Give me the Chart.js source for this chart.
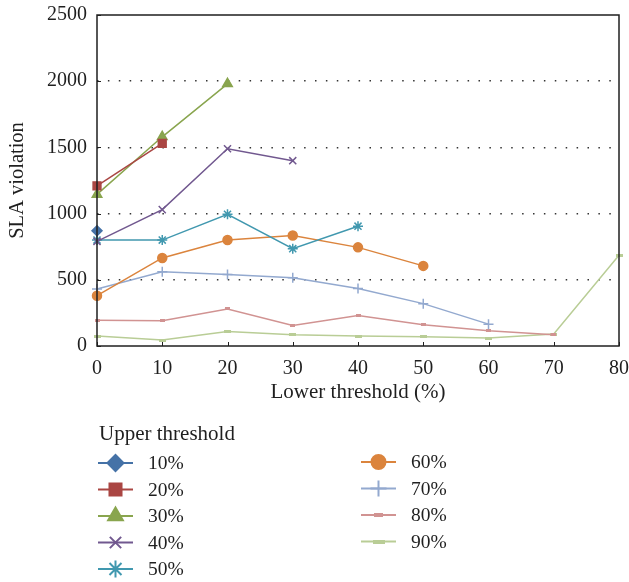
<!DOCTYPE html>
<html>
<head>
<meta charset="utf-8">
<script src="https://cdn.jsdelivr.net/npm/chart.js@4"></script>
<style>
  html, body { margin:0; padding:0; background:#fff; }
  #wrap { width:629px; height:582px; }
</style>
</head>
<body>
<div id="wrap"><canvas id="chart" width="629" height="582"></canvas></div>
<script>
// --- Data ---
const lowerThresholds = ['0','10','20','30','40','50','60','70','80'];
const yTicks = [0, 500, 1000, 1500, 2000, 2500];

const upper10 = [870];
const upper20 = [1210, 1530];
const upper30 = [1145, 1580, 1980];
const upper40 = [790, 1030, 1490, 1400];
const upper50 = [800, 800, 995, 735, 905];
const upper60 = [380, 665, 800, 835, 745, 605];
const upper70 = [430, 560, 540, 515, 435, 320, 165];
const upper80 = [195, 190, 280, 155, 230, 160, 115, 85];
const upper90 = [75, 45, 110, 85, 75, 70, 60, 90, 685];

const seriesNames = ['10%','20%','30%','40%','50%','60%','70%','80%','90%'];
const seriesData = [upper10, upper20, upper30, upper40, upper50, upper60, upper70, upper80, upper90];
const seriesColors = ['#4572A7','#AA4643','#89A54E','#71588F','#4198AF','#DB843D','#93A9CF','#D19392','#B9CD96'];

const FONT = "'Liberation Serif', 'DejaVu Serif', serif";
const INK = '#1f1f1f';

// small flat bar marker used by the 80% / 90% series
function barMarker(w, h, color){
  const c = document.createElement('canvas');
  c.width = w; c.height = h;
  const g = c.getContext('2d');
  g.fillStyle = color; g.fillRect(0, 0, w, h);
  return c;
}

// marker style per series: [plot style, plot radius, legend style, legend radius]
const markers = [
  ['rectRot', 5, 'rectRot', 8],
  ['rect', 5.5, 'rect', 8.5],
  ['triangle', 5.5, 'triangle', 8.5],
  ['crossRot', 5, 'crossRot', 8],
  ['star', 5, 'star', 8.5],
  ['circle', 4.5, 'circle', 7],
  ['cross', 5, 'cross', 8],
  [barMarker(5, 3, '#D19392'), 3, barMarker(9, 4, '#D19392'), 4],
  [barMarker(7, 3, '#B9CD96'), 3, barMarker(12, 4, '#B9CD96'), 4],
];

const datasets = seriesNames.map((name, i) => ({
  label: name,
  data: seriesData[i],
  borderColor: seriesColors[i],
  backgroundColor: seriesColors[i],
  borderWidth: 1.5,
  pointStyle: markers[i][0],
  pointRadius: markers[i][1],
  pointHoverRadius: markers[i][1],
  pointBorderWidth: 1.5,
  tension: 0,
  clip: false,
  fill: false
}));

// --- frame + inward tick marks ---
const framePlugin = {
  id: 'frame',
  afterDatasetsDraw(chart){
    const {ctx, chartArea:a, scales} = chart;
    ctx.save();
    ctx.strokeStyle = INK; ctx.lineWidth = 1.5;
    ctx.strokeRect(a.left, a.top, a.right - a.left, a.bottom - a.top);
    ctx.lineWidth = 1;
    ctx.beginPath();
    lowerThresholds.forEach((_, i) => {
      const x = Math.round(scales.x.getPixelForValue(i)) + 0.5;
      ctx.moveTo(x, a.bottom); ctx.lineTo(x, a.bottom - 4);
    });
    yTicks.forEach(v => {
      const y = Math.round(scales.y.getPixelForValue(v)) + 0.5;
      ctx.moveTo(a.left, y); ctx.lineTo(a.left + 4, y);
    });
    ctx.stroke();
    ctx.restore();
  }
};

// --- legend below the plot, two columns ---
const legendPlugin = {
  id: 'sideLegend',
  afterDraw(chart){
    const ctx = chart.ctx;
    ctx.save();
    ctx.font = "21px " + FONT;
    ctx.fillStyle = INK;
    ctx.textBaseline = 'middle';
    ctx.textAlign = 'left';
    ctx.fillText('Upper threshold', 99, 434);
    ctx.font = "19.5px " + FONT;
    seriesNames.forEach((name, i) => {
      const col = i < 5 ? 0 : 1;
      const row = col ? i - 5 : i;
      const x0 = col ? 361 : 98;
      const y = (col ? 462 : 463) + row * 26.5;
      ctx.strokeStyle = seriesColors[i];
      ctx.lineWidth = 2;
      ctx.beginPath(); ctx.moveTo(x0, y); ctx.lineTo(x0 + 35, y); ctx.stroke();
      ctx.fillStyle = seriesColors[i];
      Chart.helpers.drawPoint(ctx, {
        pointStyle: markers[i][2], radius: markers[i][3], borderWidth: 1.5, rotation: 0
      }, x0 + 17.5, y);
      ctx.fillStyle = INK;
      ctx.fillText(name, x0 + 50, y + 1);
    });
    ctx.restore();
  }
};

new Chart(document.getElementById('chart'), {
  type: 'line',
  data: { labels: lowerThresholds, datasets },
  plugins: [framePlugin, legendPlugin],
  options: {
    responsive: false,
    animation: false,
    events: [],
    layout: { padding: { top: 15, right: 10, left: 0, bottom: 176 } },
    plugins: { legend: { display: false }, tooltip: { enabled: false } },
    scales: {
      x: {
        type: 'category',
        offset: false,
        grid: { display: false },
        border: { display: false },
        ticks: { color: INK, font: { family: FONT, size: 20 }, padding: 3, maxRotation: 0, autoSkip: false },
        title: { display: true, text: 'Lower threshold (%)', color: INK, font: { family: FONT, size: 21 }, padding: { top: 0, bottom: 1 } },
        afterFit(scale){ scale.height = 60; scale.paddingLeft = 0; scale.paddingRight = 0; }
      },
      y: {
        min: 0, max: 2500,
        afterBuildTicks(scale){ scale.ticks = yTicks.map(v => ({ value: v })); },
        grid: {
          drawTicks: false,
          lineWidth: 1.5,
          color: ctx => (ctx.tick && (ctx.tick.value === 0 || ctx.tick.value === 2500)) ? 'rgba(0,0,0,0)' : '#333'
        },
        border: { display: false, dash: [1.5, 9.4] },
        ticks: { color: INK, font: { family: FONT, size: 20 }, padding: 10, callback: v => String(v) },
        title: { display: true, text: 'SLA violation', color: INK, font: { family: FONT, size: 20.5 }, padding: { top: 5, bottom: 0 } },
        afterFit(scale){ scale.width = 97; scale.paddingTop = 0; scale.paddingBottom = 0; }
      }
    }
  }
});
</script>
</body>
</html>
